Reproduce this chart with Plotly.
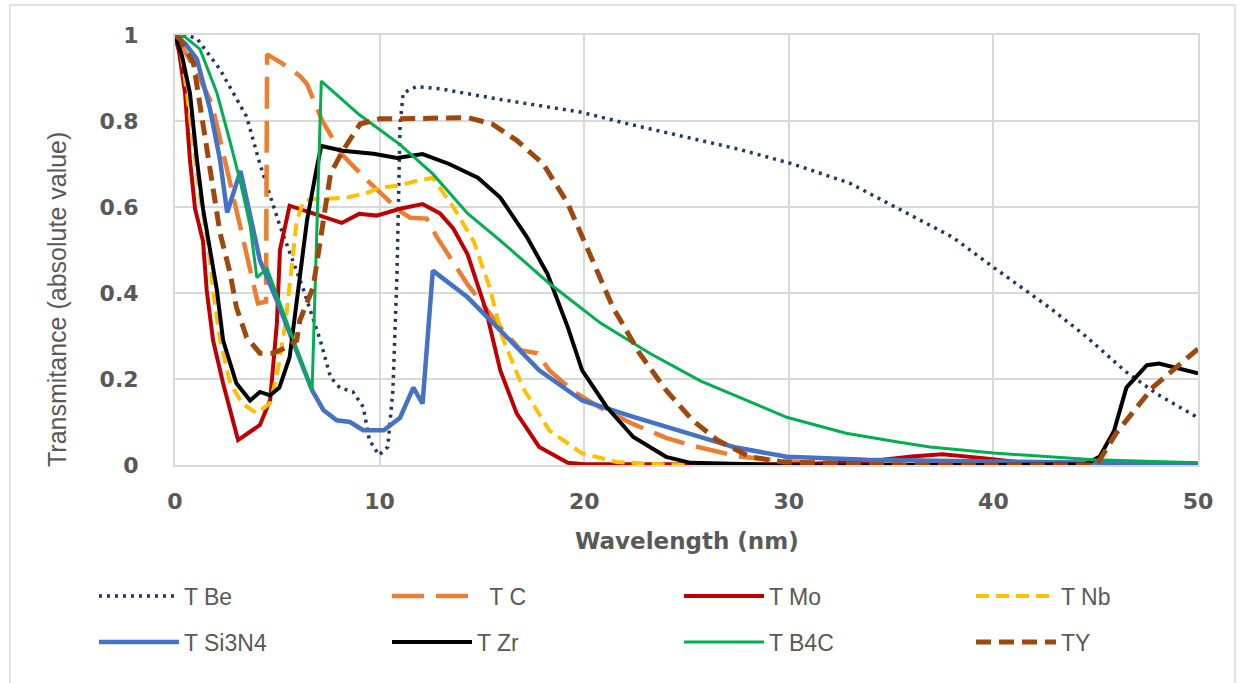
import plotly.graph_objects as go

# ---------------- data ----------------
be_x = [0, 0.6, 1.1, 2.2, 3.5, 4.15, 5.1, 6.26, 7.1, 7.6, 8.05, 8.7, 9.2, 9.5, 9.97, 10.4, 10.65, 10.85, 11.0, 11.15,
        11.8, 12.95, 15.9, 19.9, 22, 24.7, 27.5, 30.2, 33, 35.6, 38, 40.0, 42.8, 44.5, 46.5, 48, 50]
be_y = [1, 1.0, 0.99, 0.92, 0.81, 0.70, 0.56, 0.41, 0.29, 0.204, 0.18, 0.17, 0.135, 0.058, 0.023, 0.042, 0.174, 0.445,
        0.79, 0.865, 0.88, 0.875, 0.85, 0.82, 0.795, 0.766, 0.735, 0.70, 0.655, 0.59, 0.53, 0.46, 0.364, 0.30, 0.216,
        0.165, 0.11]

c_x = [0, 0.5, 1.0, 1.8, 2.45, 3.0, 3.5, 4.05, 4.45, 4.5, 5.2, 6.1, 6.45, 7.2, 8.2, 9.5, 10.3, 11.0, 11.5, 12.3, 12.8,
       14.3, 15.9, 16.9, 17.7, 18.3, 19.5, 20.8, 22.4, 24.0, 25.2, 27.5, 30.4, 35, 40, 45, 50]
c_y = [1, 0.96, 0.92, 0.84, 0.71, 0.60, 0.49, 0.376, 0.38, 0.955, 0.935, 0.905, 0.886, 0.80, 0.72, 0.657, 0.62, 0.59,
       0.575, 0.573, 0.53, 0.42, 0.32, 0.267, 0.26, 0.22, 0.17, 0.133, 0.095, 0.063, 0.046, 0.02, 0.007, 0.004, 0.003,
       0.002, 0.001]

mo_x = [0, 0.2, 0.49, 0.73, 0.98, 1.37, 1.55, 1.86, 2.35, 3.08, 3.6, 4.15, 4.65, 4.98, 5.13, 5.6, 6.45, 7.4, 8.15, 9.0,
        9.85, 11.0, 12.1, 12.95, 13.6, 14.3, 15.2, 15.9, 16.7, 17.8, 19.2, 20, 25, 30, 33, 34.6, 36, 37.5, 39.5, 41, 42,
        45, 50]
mo_y = [1, 0.96, 0.865, 0.71, 0.596, 0.52, 0.406, 0.29, 0.19, 0.058, 0.075, 0.093, 0.151, 0.33, 0.5, 0.603, 0.59, 0.575,
        0.563, 0.584, 0.58, 0.596, 0.607, 0.585, 0.55, 0.49, 0.36, 0.22, 0.12, 0.042, 0.005, 0.002, 0.001, 0.002, 0.006,
        0.012, 0.02, 0.025, 0.016, 0.008, 0.003, 0.001, 0.0]

nb_x = [0, 0.3, 0.6, 0.9, 1.2, 1.6, 1.86, 2.2, 2.7, 3.27, 4.0, 4.65, 5.0, 5.4, 5.7, 5.95, 6.3, 7.0, 7.7, 8.4, 9.4, 10.0,
        11.0, 11.8, 12.6, 13.6, 14.6, 15.4, 16.0, 17.0, 18.3, 19.9, 21.6, 24, 30, 40, 50]
nb_y = [1, 0.96, 0.86, 0.74, 0.63, 0.52, 0.406, 0.29, 0.19, 0.144, 0.12, 0.144, 0.213, 0.33, 0.46, 0.568, 0.615, 0.62,
        0.62, 0.622, 0.633, 0.645, 0.65, 0.661, 0.668, 0.6, 0.52, 0.41, 0.297, 0.18, 0.08, 0.027, 0.007, 0.001, 0.0, 0.0,
        0.0]

si_x = [0, 0.5, 1.07, 1.7, 2.2, 2.55, 3.2, 3.8, 4.15, 5.0, 5.8, 6.7, 7.25, 7.9, 8.55, 9.2, 10.2, 11.0, 11.65, 12.1, 12.6,
        14.3, 15.9, 17.8, 19.9, 22.4, 25.7, 27.3, 29.9, 33.8, 40, 45, 50]
si_y = [1, 0.98, 0.944, 0.83, 0.71, 0.587, 0.684, 0.557, 0.476, 0.38, 0.283, 0.174, 0.128, 0.104, 0.1, 0.081, 0.081,
        0.11, 0.18, 0.143, 0.452, 0.39, 0.313, 0.22, 0.15, 0.112, 0.065, 0.042, 0.019, 0.012, 0.008, 0.005, 0.003]

zr_x = [0, 0.35, 0.73, 1.07, 1.37, 1.7, 2.05, 2.35, 3.0, 3.67, 4.15, 4.65, 5.1, 5.6, 6.1, 6.45, 6.9, 7.15, 8.2, 9.7,
        10.85, 12.1, 13.4, 14.8, 15.9, 17.2, 18.2, 19.2, 19.9, 21.1, 22.4, 24.0, 25.2, 30, 40, 44.5, 45.2, 45.9, 46.5,
        47.5, 48.1, 50]
zr_y = [1, 0.95, 0.865, 0.71, 0.596, 0.5, 0.406, 0.29, 0.19, 0.15, 0.17, 0.162, 0.18, 0.25, 0.445, 0.568, 0.684, 0.742,
        0.731, 0.724, 0.714, 0.723, 0.7, 0.668, 0.622, 0.53, 0.445, 0.32, 0.22, 0.135, 0.065, 0.019, 0.005, 0.0, 0.0,
        0.002, 0.02, 0.08, 0.18, 0.232, 0.236, 0.213]

b4c_x = [0, 0.5, 1.22, 2.05, 2.7, 3.2, 3.67, 4.0, 4.5, 6.7, 7.15, 9.0, 11.0, 12.6, 14.3, 15.9, 18.3, 20.8, 23.2, 25.7,
         29.9, 32.8, 35.4, 36.9, 40, 44.9, 50]
b4c_y = [1, 0.995, 0.967, 0.865, 0.75, 0.657, 0.557, 0.436, 0.457, 0.174, 0.893, 0.815, 0.745, 0.677, 0.585, 0.522,
         0.422, 0.33, 0.26, 0.195, 0.111, 0.074, 0.053, 0.042, 0.028, 0.012, 0.005]

y_x = [0, 0.25, 0.9, 1.37, 1.8, 2.2, 2.7, 3.0, 3.5, 4.15, 4.8, 5.45, 5.95, 6.1, 6.75, 7.25, 7.6, 8.2, 9.05, 10.0, 11.0,
       14.3, 15.5, 16.7, 18.0, 19.2, 20.3, 21.4, 22.7, 24.0, 25.3, 26.5, 28.1, 29.7, 35, 45, 45.2, 46.0, 47.8, 50]
y_y = [1, 0.99, 0.935, 0.79, 0.657, 0.54, 0.445, 0.367, 0.297, 0.26, 0.26, 0.274, 0.29, 0.336, 0.413, 0.568, 0.677,
       0.731, 0.793, 0.805, 0.805, 0.808, 0.793, 0.755, 0.70, 0.608, 0.49, 0.367, 0.26, 0.174, 0.104, 0.058, 0.019,
       0.007, 0.0, 0.0, 0.012, 0.074, 0.181, 0.27]

names = ["T Be", "  T C", "T Mo", "T Nb", "T Si3N4", "T Zr", "T B4C", "TY"]
x_ticks = [0, 10, 20, 30, 40, 50]
y_ticks = [0, 0.2, 0.4, 0.6, 0.8, 1]
y_tick_text = ["0", "0.2", "0.4", "0.6", "0.8", "1"]

# ---------------- styles ----------------
series = [
    (be_x, be_y, dict(color="#1F3864", width=3.5, dash="3px,5px")),
    (c_x, c_y, dict(color="#ED7D31", width=4.5, dash="32px,12px")),
    (mo_x, mo_y, dict(color="#C00000", width=4)),
    (nb_x, nb_y, dict(color="#FFC000", width=4, dash="13px,7px")),
    (si_x, si_y, dict(color="#4472C4", width=4.5)),
    (zr_x, zr_y, dict(color="#000000", width=4)),
    (b4c_x, b4c_y, dict(color="#00B050", width=3)),
    (y_x, y_y, dict(color="#9E480E", width=5, dash="15px,8px")),
]

# legend positions (pixel left of sample, pixel centre y)
leg_pos = [(94, 596), (387, 596), (679, 596), (971, 596),
           (94, 642), (387, 642), (679, 642), (971, 642)]

L, R, T, B = 175, 43, 35, 218
W, H = 1241, 683
pw, ph = W - L - R, H - T - B

fig = go.Figure()
layout_legends = {}
for i, ((xs, ys, st), nm) in enumerate(zip(series, names)):
    lname = "legend" if i == 0 else f"legend{i + 1}"
    fig.add_trace(go.Scatter(x=xs, y=ys, mode="lines", name=nm, line=st, legend=lname))
    px, py = leg_pos[i]
    layout_legends[lname] = dict(
        x=(px - L) / pw, y=(H - B - py) / ph, xanchor="left", yanchor="middle",
        orientation="h", bgcolor="rgba(0,0,0,0)", itemwidth=80,
        font=dict(family="Liberation Sans", size=23, color="#595959"),
    )

fig.update_layout(
    width=W, height=H,
    margin=dict(l=L, r=R, t=T, b=B),
    paper_bgcolor="white", plot_bgcolor="white",
    showlegend=True,
    **layout_legends,
    xaxis=dict(range=[0, 50], tickvals=x_ticks, ticktext=[str(v) for v in x_ticks],
               showgrid=True, gridcolor="#D9D9D9", gridwidth=2, zeroline=False,
               showline=True, linecolor="#D9D9D9", linewidth=2, mirror=True,
               ticks="", ticklabelstandoff=16,
               tickfont=dict(family="DejaVu Sans", size=22, color="#595959", weight="bold")),
    yaxis=dict(range=[0, 1], tickvals=y_ticks, ticktext=y_tick_text,
               showgrid=True, gridcolor="#D9D9D9", gridwidth=2, zeroline=False,
               showline=True, linecolor="#D9D9D9", linewidth=2, mirror=True,
               ticks="", ticklabelstandoff=30,
               tickfont=dict(family="DejaVu Sans", size=22, color="#595959", weight="bold")),
    annotations=[
        dict(text="Wavelength (nm)", xref="paper", yref="paper", x=0.5, y=(H - B - 541) / ph,
             xanchor="center", yanchor="middle", showarrow=False,
             font=dict(family="DejaVu Sans", size=23, color="#595959", weight="bold")),
        dict(text="Transmitance (absolute value)", xref="paper", yref="paper",
             x=(57 - L) / pw, y=(H - B - 300) / ph, textangle=-90,
             xanchor="center", yanchor="middle", showarrow=False,
             font=dict(family="Liberation Sans", size=25, color="#595959")),
    ],
    shapes=[
        dict(type="rect", xref="paper", yref="paper",
             x0=(10 - L) / pw, x1=(1235 - L) / pw, y0=(H - B - 720) / ph, y1=(H - B - 5) / ph,
             line=dict(color="#D9D9D9", width=1.5), fillcolor="rgba(0,0,0,0)", layer="below"),
    ],
)

fig.write_html("out.html")
